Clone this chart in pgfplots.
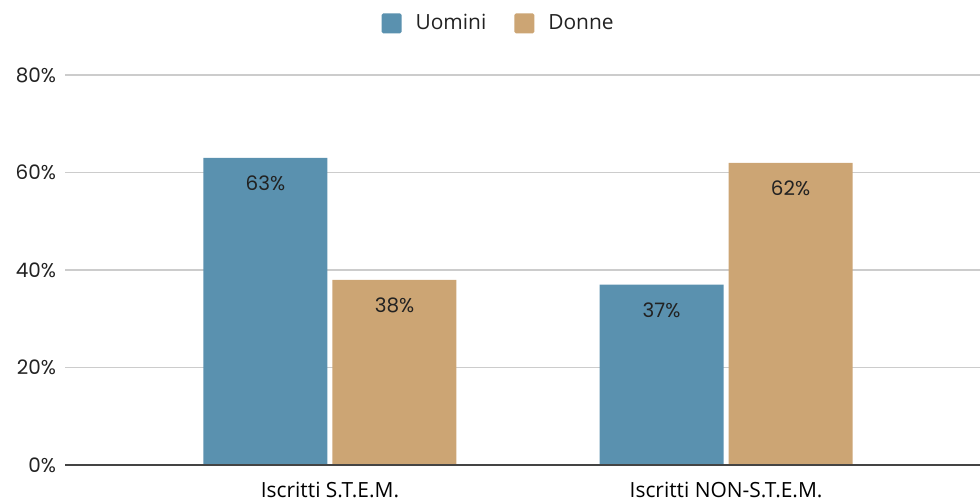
\documentclass[border=0pt]{standalone}
\usepackage{fontspec}
\setmainfont{Open Sans}
\newfontfamily\numfont{Poppins}
\usepackage{pgfplots}
\pgfplotsset{compat=1.18}
\usetikzlibrary{calc}
\definecolor{cblue}{HTML}{5A91AF}
\definecolor{ctan}{HTML}{CCA574}
\definecolor{cgrid}{HTML}{CCCCCC}
\definecolor{caxis}{HTML}{444444}
\definecolor{ctext}{HTML}{222222}
\begin{document}
\begin{tikzpicture}
\begin{axis}[
  name=ax,
  scale only axis,
  width=457.5bp, height=195bp,
  xmin=-0.669, xmax=1.641,
  ymin=0, ymax=80,
  ytick={0,20,40,60,80},
  yticklabel={\pgfmathprintnumber{\tick}\%},
  /pgf/number format/assume math mode=true,
  yticklabel style={font=\numfont\fontsize{10}{12}\selectfont, text=ctext, xshift=-1bp},
  xtick={0,1},
  xticklabels={Iscritti S.T.E.M., Iscritti NON-S.T.E.M.},
  xticklabel style={font=\fontsize{10.5}{12}\selectfont, text=black, yshift=-5bp},
  major tick length=0pt,
  axis line style={draw=none},
  axis x line*=bottom,
  ymajorgrids,
  grid style={cgrid, line width=0.6bp},
  ybar,
  bar width=62bp,
  legend style={at={(rel axis cs:0.475,1)}, anchor=south, yshift=17bp, draw=none,
    font=\fontsize{10.5}{12}\selectfont, text=ctext,
    legend columns=2, column sep=0bp,
    /tikz/every odd column/.append style={column sep=5bp},
    /tikz/every even column/.append style={column sep=12bp},
    nodes={inner sep=2bp}},
  legend image code/.code={\fill[#1, rounded corners=0.8bp] (0bp,-5bp) rectangle (10bp,5bp);},
  nodes near coords={\pgfmathprintnumber{\pgfplotspointmeta}\%},
  nodes near coords style={font=\numfont\fontsize{10}{12}\selectfont, text=ctext, anchor=north, yshift=-5.5bp},
]
\addplot[fill=cblue, draw=none, bar shift=-32.25bp] coordinates {(0,63) (1,37)};
\addplot[fill=ctan, draw=none, bar shift=32.25bp] coordinates {(0,38) (1,62)};
\legend{Uomini, Donne}
\draw[caxis, line width=1bp] (rel axis cs:0,0) -- (rel axis cs:1,0);
\end{axis}
\pgfresetboundingbox
\path[use as bounding box] ($(ax.south west)+(-32.5bp,-18bp)$) rectangle ($(ax.north east)+(0,37.5bp)$);
\end{tikzpicture}
\end{document}
